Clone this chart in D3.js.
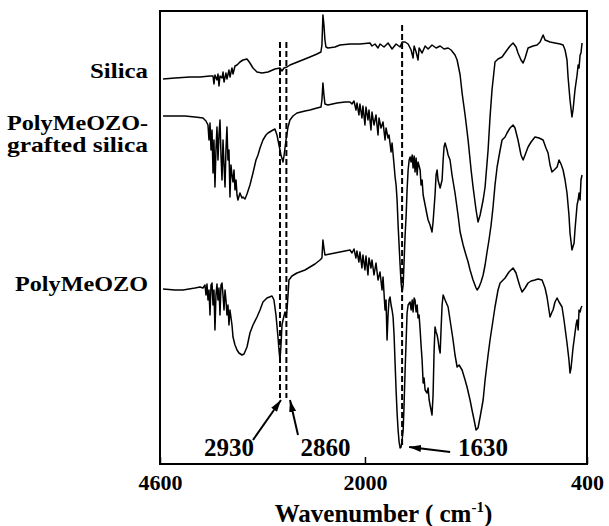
<!DOCTYPE html>
<html>
<head>
<meta charset="utf-8">
<script src="https://cdn.jsdelivr.net/npm/d3@7"></script>
<style>
  body { margin: 0; background: #fff; }
  text { font-family: "Liberation Serif", "Times New Roman", serif; font-weight: bold; fill: #000; }
</style>
</head>
<body>
<div id="chart"></div>
<script>
// FTIR spectra, [wavenumber (cm-1), transmittance (a.u., offset)]
const silica = [
  [4558,385],[4391,386],[4183,387],[4043,387],[3904,388],[3862,388],[3849,380],[3835,389],[3807,384],[3793,390],
  [3779,378],[3765,388],[3737,386],[3723,392],[3709,382],[3682,391],[3668,385],[3640,394],[3626,387],[3598,396],
  [3584,390],[3556,398],[3528,399],[3487,402],[3445,404],[3389,405],[3348,401],[3306,396],[3250,392],[3180,391],
  [3097,392],[3000,395],[2930,396],[2908,393],[2886,396],[2853,397],[2821,399],[2711,403],[2602,407],[2525,410],
  [2482,412],[2471,419],[2460,449],[2449,439],[2438,424],[2427,417],[2405,416],[2328,417],[2274,419],[2164,420],
  [2055,420],[1950,421],[1930,418],[1900,420],[1870,416],[1850,420],[1810,417],[1770,421],[1730,415],[1690,420],
  [1650,417],[1630,422],[1610,422],[1590,420],[1570,414],[1557,406],[1550,418],[1537,412],[1524,404],[1517,416],
  [1497,411],[1477,418],[1457,415],[1431,419],[1404,416],[1377,418],[1351,415],[1324,416],[1304,414],[1278,409],
  [1264,404],[1244,389],[1231,371],[1211,349],[1191,324],[1171,294],[1158,277],[1138,254],[1125,242],[1111,249],
  [1091,264],[1078,277],[1058,314],[1045,347],[1032,374],[1012,402],[992,405],[965,407],[932,414],[912,418],
  [892,421],[872,417],[859,411],[839,404],[825,401],[812,406],[792,416],[759,418],[732,419],[712,422],
  [692,429],[679,424],[646,422],[613,421],[579,420],[559,419],[546,414],[533,404],[526,387],[513,364],
  [500,347],[493,354],[480,374],[466,389],[459,399],[453,396],[446,409],[440,411],[433,421]
];

const grafted = [
  [4558,348],[4391,348],[4252,348],[4113,347],[4002,346],[3960,343],[3932,339],[3918,324],[3904,341],[3890,314],
  [3876,334],[3862,291],[3849,324],[3835,277],[3821,314],[3807,337],[3793,304],[3779,329],[3765,344],[3751,309],
  [3737,284],[3723,324],[3709,299],[3695,277],[3682,314],[3668,337],[3654,304],[3640,314],[3626,267],[3612,299],
  [3598,289],[3584,282],[3570,294],[3556,274],[3542,284],[3528,269],[3515,264],[3487,271],[3459,266],[3445,267],
  [3417,265],[3389,270],[3348,279],[3306,291],[3264,304],[3236,309],[3208,316],[3167,324],[3125,329],[3097,331],
  [3027,334],[3000,335],[2972,329],[2944,319],[2919,309],[2897,302],[2886,308],[2864,324],[2842,337],[2821,344],
  [2788,348],[2744,351],[2656,353],[2602,354],[2525,356],[2481,357],[2471,364],[2460,381],[2449,369],[2438,360],
  [2405,359],[2306,361],[2219,362],[2164,362],[2142,360],[2120,363],[2098,354],[2087,361],[2066,349],[2055,360],
  [2033,346],[2022,358],[2000,339],[1990,357],[1970,344],[1960,354],[1940,334],[1930,352],[1910,339],[1890,349],
  [1870,329],[1860,346],[1840,336],[1820,342],[1800,324],[1790,336],[1770,326],[1760,329],[1740,312],[1730,321],
  [1710,299],[1700,287],[1690,279],[1680,264],[1670,239],[1650,199],[1640,181],[1630,172],[1623,179],[1617,202],
  [1610,229],[1603,249],[1597,274],[1590,294],[1583,304],[1577,307],[1570,302],[1563,309],[1557,296],[1550,308],
  [1544,292],[1537,306],[1530,289],[1524,302],[1510,294],[1504,279],[1497,284],[1490,269],[1477,259],[1464,249],
  [1457,244],[1444,239],[1431,232],[1424,242],[1411,269],[1404,289],[1397,294],[1391,284],[1377,276],[1364,284],
  [1357,304],[1351,317],[1344,321],[1331,314],[1324,309],[1311,304],[1298,289],[1278,271],[1258,249],[1244,232],
  [1224,219],[1211,212],[1191,202],[1178,194],[1158,184],[1138,176],[1131,174],[1118,177],[1105,182],[1091,189],
  [1078,199],[1065,212],[1052,224],[1038,239],[1025,257],[1012,279],[998,297],[978,314],[965,324],[945,327],
  [932,331],[912,336],[892,339],[879,336],[859,324],[839,309],[825,304],[812,309],[792,317],[772,322],
  [746,327],[719,326],[692,324],[673,316],[659,311],[646,299],[633,292],[619,294],[599,297],[586,304],
  [573,300],[559,294],[546,284],[533,271],[520,249],[513,231],[500,214],[486,221],[480,234],[466,259],
  [459,264],[453,271],[446,264],[440,284],[433,289]
];

const polymer = [
  [4558,175],[4391,174],[4280,174],[4113,176],[4043,177],[4002,176],[3974,179],[3960,169],[3946,180],[3932,164],
  [3918,174],[3904,149],[3890,179],[3876,181],[3862,159],[3849,174],[3835,134],[3821,169],[3807,180],[3793,164],
  [3779,176],[3765,149],[3751,179],[3737,181],[3723,169],[3709,154],[3695,174],[3682,164],[3668,149],[3654,159],
  [3640,139],[3626,154],[3598,139],[3584,127],[3556,119],[3528,114],[3501,111],[3459,109],[3431,110],[3389,117],
  [3348,131],[3306,139],[3250,147],[3208,154],[3167,162],[3111,166],[3041,168],[3014,164],[2986,149],[2958,127],
  [2944,114],[2930,104],[2919,119],[2908,139],[2897,144],[2886,148],[2875,152],[2864,147],[2853,154],[2842,169],
  [2832,184],[2799,188],[2744,191],[2656,194],[2602,197],[2547,200],[2492,204],[2471,206],[2460,224],[2449,216],
  [2438,209],[2383,210],[2274,212],[2164,214],[2142,211],[2120,215],[2099,206],[2088,213],[2066,202],[2055,212],
  [2033,196],[2022,209],[2000,194],[1990,208],[1970,189],[1960,206],[1940,196],[1930,204],[1910,189],[1890,201],
  [1870,184],[1850,192],[1830,174],[1820,187],[1800,154],[1790,164],[1780,124],[1770,149],[1760,164],[1750,167],
  [1740,159],[1730,154],[1720,147],[1710,129],[1700,101],[1690,74],[1680,51],[1670,34],[1660,22],[1650,16],
  [1640,17],[1630,24],[1623,34],[1617,59],[1610,94],[1603,124],[1597,151],[1590,159],[1577,162],[1570,154],
  [1563,164],[1557,152],[1550,166],[1544,164],[1537,152],[1530,159],[1524,146],[1517,149],[1510,134],[1504,119],
  [1497,104],[1490,81],[1484,86],[1477,74],[1464,71],[1457,76],[1450,64],[1444,59],[1431,49],[1424,69],
  [1417,114],[1411,137],[1404,132],[1397,129],[1391,124],[1384,116],[1377,111],[1371,134],[1364,159],[1357,169],
  [1344,164],[1324,157],[1311,144],[1291,124],[1278,109],[1264,97],[1251,99],[1231,94],[1211,84],[1198,77],
  [1178,64],[1165,54],[1151,44],[1138,34],[1125,36],[1111,47],[1091,64],[1078,84],[1058,109],[1045,124],
  [1025,144],[1012,157],[992,174],[978,181],[945,186],[919,192],[892,196],[872,191],[859,184],[845,177],
  [832,172],[812,176],[792,181],[772,183],[746,184],[726,185],[699,184],[679,176],[666,167],[653,154],
  [646,147],[633,152],[626,154],[613,162],[599,166],[586,162],[566,157],[553,144],[533,121],[520,104],
  [513,91],[506,96],[493,116],[486,124],[473,139],[466,144],[459,134],[453,154],[446,152],[440,156],[433,158]
];

const seriesLabels = [["Silica"], ["PolyMeOZO-", "grafted silica"], ["PolyMeOZO"]];
const tickValues = [4600, 2000, 400];
// marked bands (cm-1) and the vertical span of each dashed guide (a.u.)
const bandLabels = ["2930", "2860", "1630"];
const bandValues = [2930, 2860, 1630];
const bandSpans = [[66, 422], [66, 422], [17, 439]];

const margin = { top: 11, right: 22, bottom: 62, left: 160 },
    width = 609 - margin.left - margin.right,
    height = 526 - margin.top - margin.bottom;

// the source figure's wavenumber axis is not uniform: break points follow the marked bands
var x = d3.scaleLinear()
    .domain([4600, 2930, 2000, 1630, 400])
    .range([0, 0.281 * width, 0.48 * width, 0.567 * width, width]);
var y = d3.scaleLinear().domain([0, 453]).range([height, 0]);

var svg = d3.select("#chart")
    .append("svg")
    .attr("width", width + margin.left + margin.right)
    .attr("height", height + margin.top + margin.bottom)
    .append("g")
    .attr("transform", "translate(" + margin.left + "," + margin.top + ")");

svg.append("defs").append("marker")
    .attr("id", "head")
    .attr("viewBox", "0 0 12 8")
    .attr("refX", 12).attr("refY", 4)
    .attr("markerWidth", 12).attr("markerHeight", 8)
    .attr("markerUnits", "userSpaceOnUse")
    .attr("orient", "auto")
    .append("path")
    .attr("d", "M0,0.5 L12,4 L0,7.5 Z")
    .attr("fill", "#000");

var spectrum = d3.line()
    .x(d => x(d[0]))
    .y(d => y(d[1]));

// spectra
[silica, grafted, polymer].forEach(function (s) {
    svg.append("path")
        .datum(s)
        .attr("d", spectrum)
        .attr("fill", "none")
        .attr("stroke", "#000")
        .attr("stroke-width", 1.5)
        .attr("stroke-linejoin", "round");
});

// dashed guides
svg.selectAll(".guide")
    .data(bandValues)
    .enter().append("line")
    .attr("class", "guide")
    .attr("x1", d => x(d)).attr("x2", d => x(d))
    .attr("y1", (d, i) => y(bandSpans[i][1]))
    .attr("y2", (d, i) => y(bandSpans[i][0]))
    .attr("stroke", "#000")
    .attr("stroke-width", 2)
    .attr("stroke-dasharray", "6,3");

// band labels with arrows (offsets from the band's x position)
const callout = [
    { anchor: "middle", tx: -51, sx: -27, sy: 429, ex: 1, ey: 389 },
    { anchor: "middle", tx: 39, sx: 11.6, sy: 424, ex: 3.6, ey: 389 },
    { anchor: "start", tx: 56, sx: 48, sy: 441, ex: 7, ey: 436 }
];
bandValues.forEach(function (b, i) {
    const c = callout[i];
    svg.append("line")
        .attr("x1", x(b) + c.sx).attr("y1", c.sy)
        .attr("x2", x(b) + c.ex).attr("y2", c.ey)
        .attr("stroke", "#000")
        .attr("stroke-width", 2)
        .attr("marker-end", "url(#head)");
    svg.append("text")
        .attr("x", x(b) + c.tx)
        .attr("y", 445)
        .attr("text-anchor", c.anchor)
        .style("font-size", "25px")
        .text(bandLabels[i]);
});

// frame
svg.append("rect")
    .attr("width", width)
    .attr("height", height)
    .attr("fill", "none")
    .attr("stroke", "#000")
    .attr("stroke-width", 2);

// X axis
var xAxis = svg.append("g")
    .attr("transform", "translate(0," + height + ")")
    .call(d3.axisBottom(x)
        .tickValues(tickValues)
        .tickFormat(d3.format("d"))
        .tickSizeInner(-7)
        .tickSizeOuter(0)
        .tickPadding(10));
xAxis.select(".domain").remove();
xAxis.selectAll("line").attr("stroke-width", 1.5);
xAxis.selectAll("text")
    .style("font-size", "22px")
    .style("font-family", "'Liberation Serif', 'Times New Roman', serif")
    .style("font-weight", "bold")
    .attr("fill", "#000");

var title = svg.append("text")
    .attr("x", width / 2 + 10)
    .attr("y", height + 58)
    .attr("text-anchor", "middle")
    .style("font-size", "25px");
title.append("tspan").text("Wavenumber ( cm");
title.append("tspan").attr("dy", -10).style("font-size", "15px").text("-1");
title.append("tspan").attr("dy", 10).text(")");

// series labels on the left
const labelY = [67, 119, 280];
const labelWidths = [[58], [141, 141], [133]];
seriesLabels.forEach(function (lines, i) {
    lines.forEach(function (t, j) {
        svg.append("text")
            .attr("x", -12)
            .attr("y", labelY[i] + j * 22)
            .attr("text-anchor", "end")
            .attr("textLength", labelWidths[i][j])
            .attr("lengthAdjust", "spacingAndGlyphs")
            .style("font-size", "21px")
            .text(t);
    });
});
</script>
</body>
</html>
